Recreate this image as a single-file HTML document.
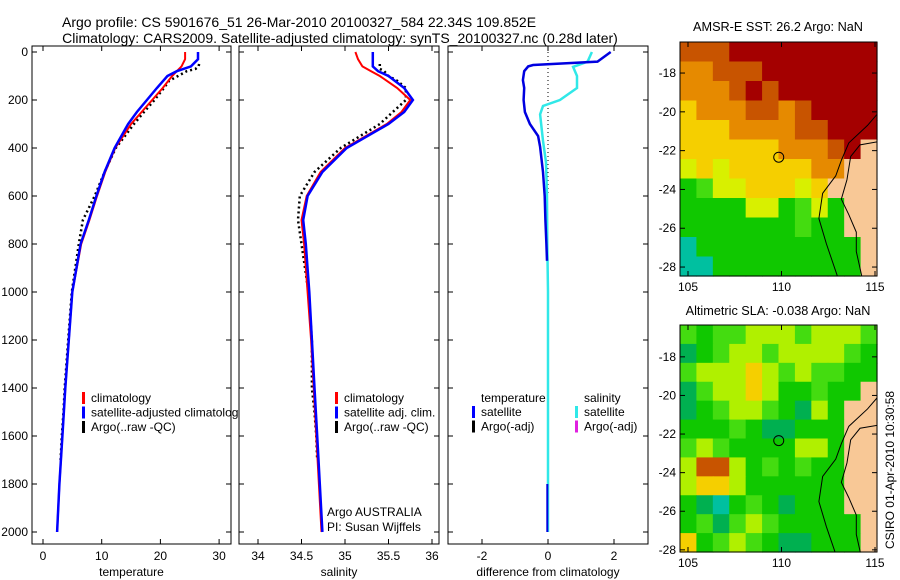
<!DOCTYPE html>
<html><head><meta charset="utf-8"><style>
body{margin:0;background:#fff;}
svg{display:block;font-family:"Liberation Sans",sans-serif;}
text{font-size:12px;fill:#000;}
</style></head><body>
<svg id="fig" width="900" height="580" viewBox="0 0 900 580" xmlns="http://www.w3.org/2000/svg">
<defs>
<clipPath id="c1"><rect x="680" y="42" width="197" height="234"/></clipPath>
<clipPath id="c2"><rect x="680" y="325" width="197" height="227"/></clipPath>
</defs>
<text x="62" y="27" style="font-size:14px">Argo profile: CS 5901676_51 26-Mar-2010 20100327_584 22.34S 109.852E</text>
<text x="340" y="43" text-anchor="middle" style="font-size:14px">Climatology: CARS2009. Satellite-adjusted climatology: synTS_20100327.nc (0.28d later)</text>
<text x="778" y="31" text-anchor="middle" style="font-size:12.7px">AMSR-E SST: 26.2 Argo: NaN</text>
<text x="778" y="315" text-anchor="middle" style="font-size:12.7px">Altimetric SLA: -0.038 Argo: NaN</text>
<text transform="translate(894,470) rotate(-90)" text-anchor="middle">CSIRO 01-Apr-2010 10:30:58</text>
<g id="g"></g>
</svg>
<script>
// ---- data ----
const depthTicks=[0,200,400,600,800,1000,1200,1400,1600,1800,2000];
const tempTicks=[0,10,20,30];
const salTicks=[34,34.5,35,35.5,36];
const diffTicks=[-2,0,2];
const tDepth=[0,30,60,80,100,150,200,250,300,400,500,600,700,800,1000,1200,1400,1600,1800,2000];
const tClim=[24.2,24.2,23.6,22.8,22.0,20.4,18.6,16.8,15.0,12.3,10.6,9.2,7.9,6.5,5.0,4.4,3.8,3.3,2.8,2.4];
const tSat=[26.4,26.4,25.2,22.8,21.2,19.4,17.7,16.0,14.5,12.2,10.5,9.1,7.8,6.4,5.0,4.4,3.8,3.3,2.8,2.4];
const aDepth=[50,60,70,80,100,120,150,200,250,300,400,500,600,700,800,1000,1200,1400,1500,1600,1700];
const tArgo=[26.6,26.5,26.0,24.5,23.0,21.5,20.6,19.0,17.2,15.5,12.4,10.5,8.8,6.8,6.1,4.9,4.3,3.7,3.5,3.2,3.0];
const sClim=[35.12,35.15,35.2,35.3,35.4,35.6,35.75,35.65,35.48,35.0,34.72,34.56,34.5,34.53,34.57,34.61,34.64,34.67,34.7,34.73];
const sSat=[35.32,35.32,35.32,35.38,35.5,35.68,35.78,35.68,35.5,35.02,34.74,34.57,34.52,34.55,34.59,34.62,34.65,34.68,34.71,34.74];
const sArgo=[35.4,35.4,35.4,35.45,35.5,35.6,35.7,35.7,35.55,35.4,34.95,34.65,34.48,34.46,34.5,34.58,34.62,34.62,34.65,34.67,34.68];
const dDepth=[0,40,54,60,80,117,150,200,250,300,350,395,500,600,700,800,870];
const dTemp=[1.9,1.5,-0.45,-0.6,-0.72,-0.76,-0.72,-0.74,-0.7,-0.55,-0.3,-0.24,-0.15,-0.1,-0.08,-0.05,-0.03];
const dsDepth=[0,40,62,100,150,200,225,260,370,460,600,800,1000,1500,2000];
const dSal=[1.33,1.2,0.76,0.88,0.88,0.36,-0.15,-0.24,-0.15,-0.06,-0.03,-0.02,0,0,0];
const dTemp2Depth=[1800,2000];
const dTemp2=[-0.02,-0.02];
// map grids (colour codes per 0.9deg cell, rows from north to south)
const sstGrid=["OOORRRRRRRRR","ooOOORRRRRRR","oooORORRRRRR","YoooOOoORRRR","YYYooooOORRR","YYYYYYoooORL","yYyYYYYYooLL","GgyyYYYyYLLL","GGGGyyGgyGLL","GGGGGGGgGGLL","TGGGGGGGGGGL","TTGGGGGGGGGL"];
const slaGrid=["gGgglllglllg","DGgllgllllgG","glllYlglggGG","DgllYlGGgGGL","DGgllgGDlGLL","GGGgGDDGGGLL","glgGGGGllGLL","lOOlGgGgGGLL","lYYlGGGGGGLL","GDTGgGDGGGLL","GgDglgGGGGGL","YGglgGDDGGGL"];
const pal={R:"#a40000",O:"#c85400",o:"#e68a00",Y:"#f5cf00",y:"#d8f000",G:"#10c800",g:"#44dc10",T:"#00c0a0",L:"#f8c896",l:"#b0f000",D:"#00b050"};
const lonTicks=[105,110,115];
const latTicks=[-18,-20,-22,-24,-26,-28];

const NS="http://www.w3.org/2000/svg";
const G=document.getElementById('g');
function mk(t,a,p){const e=document.createElementNS(NS,t);for(const k in a)e.setAttribute(k,a[k]);(p||G).appendChild(e);return e;}
const yD=d=>52+d*0.24;
function panel(x0,x1,xs,ticks,label,name,showY){
  const g=mk('g',{});
  
  
  mk('rect',{x:x0,y:46,width:x1-x0,height:498,fill:'#fff',stroke:'#000'},g);
  ticks.forEach(v=>{const x=xs(v);
    mk('line',{x1:x,x2:x,y1:544,y2:539,stroke:'#000'},g);mk('line',{x1:x,x2:x,y1:46,y2:51,stroke:'#000'},g);
    const t=mk('text',{x:x,y:560,'text-anchor':'middle'},g);t.textContent=v;
    
    });
  depthTicks.forEach(d=>{const y=yD(d);
    mk('line',{x1:x0,x2:x0+5,y1:y,y2:y,stroke:'#000'},g);mk('line',{x1:x1,x2:x1-5,y1:y,y2:y,stroke:'#000'},g);
    if(showY){const t=mk('text',{x:x0-4,y:y+4,'text-anchor':'end'},g);t.textContent=d;
    
    }});
  const t=mk('text',{x:(x0+x1)/2,y:576,'text-anchor':'middle'},g);t.textContent=label;
  
  
  return g;
}
function line(g,xs,vals,depths,col,w,name,dash){
  const p=vals.map((v,i)=>xs(v).toFixed(1)+','+yD(depths[i]).toFixed(1)).join(' ');
  const e=mk('polyline',{points:p,fill:'none',stroke:col,'stroke-width':w},g);
  if(dash)e.setAttribute('stroke-dasharray',dash);
  
  
}
function legend(g,x,y,items){items.forEach((it,i)=>{
  const yy=y+i*14.5;
  const r=mk('rect',{x:x-9,y:yy-10,width:3,height:12,fill:it[1]},g);
  
  
  const t=mk('text',{x:x,y:yy},g);t.textContent=it[0];
  
  });}
// temperature
const xT=v=>43+v*5.87;
const p1=panel(32,231,xT,tempTicks,'temperature','temperature-panel',true);
line(p1,xT,tArgo,aDepth,'#000',2.5,'argo-temperature','2 3');
line(p1,xT,tClim,tDepth,'#f00',2,'climatology-temperature');
line(p1,xT,tSat,tDepth,'#00f',2.5,'satellite-temperature');
legend(p1,91,402,[['climatology','#f00'],['satellite-adjusted climatology','#00f'],['Argo(..raw -QC)','#000']]);
// salinity
const xS=v=>258+(v-34)*87;
const p2=panel(239,439,xS,salTicks,'salinity','salinity-panel',false);
line(p2,xS,sArgo,aDepth,'#000',2.5,'argo-salinity','2 3');
line(p2,xS,sClim,tDepth,'#f00',2,'climatology-salinity');
line(p2,xS,sSat,tDepth,'#00f',2.5,'satellite-salinity');
legend(p2,344,402,[['climatology','#f00'],['satellite adj. clim.','#00f'],['Argo(..raw -QC)','#000']]);
let t=mk('text',{x:327,y:516},p2);t.textContent='Argo AUSTRALIA';
t=mk('text',{x:327,y:531},p2);t.textContent='PI: Susan Wijffels';
// difference
const xDf=v=>548+v*33;
const p3=panel(448,648,xDf,diffTicks,'difference from climatology','difference-panel',false);
mk('line',{x1:xDf(0),x2:xDf(0),y1:yD(0),y2:yD(600),stroke:'#000','stroke-dasharray':'1 3'},p3);
line(p3,xDf,dSal,dsDepth,'#30e8e8',2.5,'salinity-difference');
line(p3,xDf,dTemp,dDepth,'#0000e0',2.5,'temperature-difference');
line(p3,xDf,dTemp2,dTemp2Depth,'#0000e0',2,'temperature-difference-deep');
t=mk('text',{x:481,y:402},p3);t.textContent='temperature';
t=mk('text',{x:584,y:402},p3);t.textContent='salinity';
legend(p3,481,416,[['satellite','#00f'],['Argo(-adj)','#000']]);
legend(p3,584,416,[['satellite','#30e8e8'],['Argo(-adj)','#e020e0']]);
// maps
function map(y0,y1,grid,name,lat0,pxLat,clip){
  const g=mk('g',{});
  
  
  const x0=680,x1=877,cw=(x1-x0)/12,ch=(y1-y0)/12;
  grid.forEach((row,r)=>{for(let c=0;c<12;c++){
    mk('rect',{x:x0+c*cw,y:y0+r*ch,width:cw+0.6,height:ch+0.6,fill:pal[row[c]]||'#10c800'},g);}});
  const yL=lat=>y0+(lat0-lat)*pxLat, xL=lon=>688+(lon-105)*18.7;
  const cg=mk('g',{'clip-path':'url(#'+clip+')'},g);
  mk('polyline',{points:[[115.4,-19.8],[114.6,-20.7],[113.6,-21.6],[113.2,-22.5],[112.9,-23.3],[112.2,-24.2],[112.0,-25.5],[112.4,-26.8],[113.0,-28.5]].map(p=>xL(p[0])+','+yL(p[1])).join(' '),fill:'none',stroke:'#000','stroke-width':1},cg);
  mk('polyline',{points:[[115.4,-21.5],[114.2,-21.7],[113.7,-22.3],[113.5,-23.5],[113.2,-24.5],[113.6,-25.3],[114.0,-26.2],[114.0,-27.2],[114.3,-28.5]].map(p=>xL(p[0])+','+yL(p[1])).join(' '),fill:'none',stroke:'#000','stroke-width':1},cg);
  mk('rect',{x:x0,y:y0,width:x1-x0,height:y1-y0,fill:'none',stroke:'#000'},g);
  const c=mk('circle',{cx:xL(109.852),cy:yL(-22.34),r:5,fill:'none',stroke:'#000'},g);
  
  
  lonTicks.forEach(v=>{const x=xL(v);mk('line',{x1:x,x2:x,y1:y1,y2:y1-5,stroke:'#000'},g);mk('line',{x1:x,x2:x,y1:y0,y2:y0+5,stroke:'#000'},g);
    const t=mk('text',{x:x,y:y1+15,'text-anchor':'middle'},g);t.textContent=v;
    
    });
  latTicks.forEach(v=>{const y=yL(v);
    mk('line',{x1:x0,x2:x0+5,y1:y,y2:y,stroke:'#000'},g);mk('line',{x1:x1,x2:x1-5,y1:y,y2:y,stroke:'#000'},g);
    const t=mk('text',{x:x0-4,y:y+4,'text-anchor':'end'},g);t.textContent=v;
    
    });
}
map(42,276,sstGrid,'sst-map',-16.4,19.4,'c1');
map(325,552,slaGrid,'sla-map',-16.35,19.3,'c2');
</script>
</body></html>
